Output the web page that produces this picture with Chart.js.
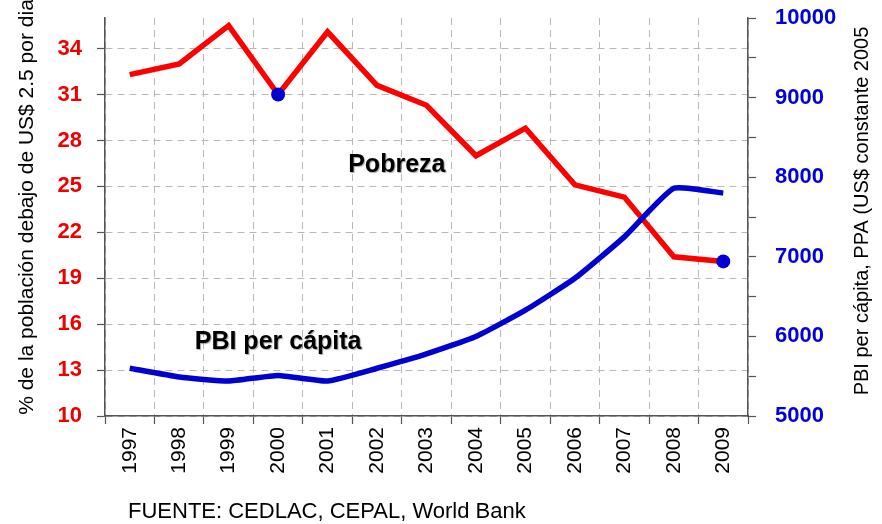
<!DOCTYPE html>
<html>
<head>
<meta charset="utf-8">
<script src="https://cdn.jsdelivr.net/npm/chart.js@4/dist/chart.umd.min.js"></script>
<style>
  html, body { margin: 0; padding: 0; background: #ffffff; }
  #wrap { width: 882px; height: 524px; position: relative; }
</style>
</head>
<body>
<div id="wrap"><canvas id="c" width="882" height="524"></canvas></div>
<script>
const years = ['1997','1998','1999','2000','2001','2002','2003','2004','2005','2006','2007','2008','2009'];
const pobreza = [32.3, 33.0, 35.5, 31.0, 35.1, 31.6, 30.3, 27.0, 28.8, 25.1, 24.3, 20.4, 20.1];
const pbiPerCapita = [5600, 5490, 5440, 5510, 5440, 5600, 5780, 6000, 6330, 6730, 7250, 7860, 7800];
const markedYears = ['2000', '2009'];
const leftTicks = [10, 13, 16, 19, 22, 25, 28, 31, 34];
const rightTicks = [5000, 5500, 6000, 6500, 7000, 7500, 8000, 8500, 9000, 9500, 10000];
const rightLabelled = [5000, 6000, 7000, 8000, 9000, 10000];

const FONT = "'Liberation Sans', Arial, Helvetica, sans-serif";
const RED = '#ff0000';
const BLUE = '#0000d0';
const GRID = '#b8b8b8';
const AXIS = '#555555';

const textPlugin = {
  id: 'texts',
  afterDraw(chart) {
    const { ctx, scales } = chart;
    const x = scales.x, y = scales.y;
    ctx.save();
    ctx.fillStyle = '#000';
    // left axis title
    ctx.save();
    ctx.translate(27, 207);
    ctx.rotate(-Math.PI / 2);
    ctx.font = '21px ' + FONT;
    ctx.textAlign = 'center';
    ctx.textBaseline = 'middle';
    ctx.fillText('% de la población debajo de US$ 2.5 por dia', 0, 0, 425);
    ctx.restore();
    // right axis title
    ctx.save();
    ctx.translate(862, 211);
    ctx.rotate(-Math.PI / 2);
    ctx.font = '20px ' + FONT;
    ctx.textAlign = 'center';
    ctx.textBaseline = 'middle';
    ctx.fillText('PBI per cápita, PPA (US$ constante 2005', 0, 0, 388);
    ctx.restore();
    // source
    ctx.font = '22px ' + FONT;
    ctx.textAlign = 'left';
    ctx.textBaseline = 'alphabetic';
    ctx.fillText('FUENTE: CEDLAC, CEPAL, World Bank', 128, 518, 420);
    // annotations
    ctx.font = 'bold 25px ' + FONT;
    ctx.textAlign = 'center';
    ctx.textBaseline = 'middle';
    ctx.shadowColor = 'rgba(0,0,0,0.35)';
    ctx.shadowOffsetX = 1;
    ctx.shadowOffsetY = 1;
    ctx.shadowBlur = 1;
    ctx.fillText('Pobreza', x.getPixelForValue(5.4), y.getPixelForValue(26.4), 100);
    ctx.fillText('PBI per cápita', x.getPixelForValue(3.0), y.getPixelForValue(14.8), 178);
    ctx.restore();
  }
};

new Chart(document.getElementById('c'), {
  type: 'line',
  data: {
    labels: years,
    datasets: [
      {
        label: 'Pobreza',
        data: pobreza,
        yAxisID: 'y',
        borderColor: RED,
        borderWidth: 5.5,
        tension: 0,
        pointRadius: (c) => markedYears.includes(years[c.dataIndex]) ? 7 : 0,
        pointBackgroundColor: BLUE,
        pointBorderColor: BLUE,
        pointBorderWidth: 0,
        order: 2
      },
      {
        label: 'PBI per cápita',
        data: pbiPerCapita,
        yAxisID: 'y1',
        borderColor: BLUE,
        borderWidth: 5.5,
        tension: 0.15,
        pointRadius: 0,
        order: 1
      }
    ]
  },
  options: {
    responsive: false,
    animation: false,
    devicePixelRatio: 1,
    layout: { padding: { top: 18, left: 0, right: 0, bottom: 0 } },
    plugins: { legend: { display: false }, tooltip: { enabled: false }, title: { display: false } },
    scales: {
      x: {
        offset: true,
        grid: { offset: true, color: GRID, lineWidth: 1, tickColor: AXIS, tickLength: 8, tickWidth: 1.2 },
        border: { color: AXIS, width: 1.5, dash: [7, 5] },
        ticks: {
          minRotation: 90, maxRotation: 90, padding: 3, autoSkip: false,
          color: '#000', font: { family: FONT, size: 21 }
        },
        afterFit(s) { s.height = 108; s.paddingLeft = 0; s.paddingRight = 0; }
      },
      y: {
        position: 'left',
        min: 10, max: 36,
        afterBuildTicks(s) { s.ticks = leftTicks.map(v => ({ value: v })); },
        grid: { color: GRID, lineWidth: 1, tickColor: AXIS, tickLength: 8, tickWidth: 1.2 },
        border: { color: AXIS, width: 1.5, dash: [7, 5] },
        ticks: { padding: 15, color: '#ee0000', font: { family: FONT, size: 22, weight: 'bold' } },
        afterFit(s) { s.width = 105; s.paddingTop = 0; s.paddingBottom = 0; }
      },
      y1: {
        position: 'right',
        min: 5000, max: 10000,
        afterBuildTicks(s) { s.ticks = rightTicks.map(v => ({ value: v })); },
        grid: { drawOnChartArea: false, tickColor: AXIS, tickLength: 8, tickWidth: 1.2 },
        border: { color: AXIS, width: 1.5 },
        ticks: {
          padding: 19, color: '#0000dd', font: { family: FONT, size: 22, weight: 'bold' },
          callback: (v) => rightLabelled.includes(v) ? String(v) : ''
        },
        afterFit(s) { s.width = 134; s.paddingTop = 0; s.paddingBottom = 0; }
      }
    }
  },
  plugins: [textPlugin]
});
</script>
</body>
</html>
